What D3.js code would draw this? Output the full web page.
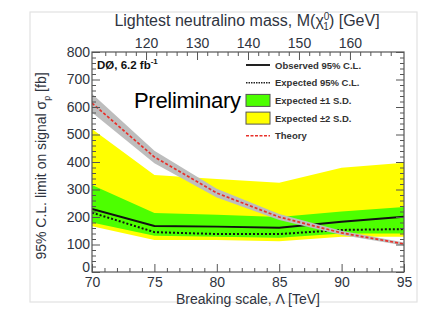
<!DOCTYPE html>
<html>
<head>
<meta charset="utf-8">
<script src="https://cdn.jsdelivr.net/npm/d3@7"></script>
<style>
  html, body { margin: 0; padding: 0; background: #fff; }
  svg { display: block; font-family: "Liberation Sans", Arial, sans-serif; }
</style>
</head>
<body>
<svg id="chart" width="439" height="329"></svg>
<script>
// Breaking scale Λ [TeV]
const lambda = [70, 75, 80, 85, 90, 95];
// Cross-section limits [fb]
const observed = [229, 167, 165, 161, 183, 201];
const expected = [216, 145, 138, 138, 153, 156];
const sd1Low  = [180, 132, 128, 125, 140, 140];
const sd1High = [316, 215, 208, 200, 220, 236];
const sd2Low  = [166, 116, 116, 112, 128, 128];
const sd2High = [520, 353, 338, 325, 379, 397];
const theory  = [614, 418, 287, 200, 142, 102];
const theoryErr = 0.055;

const xTicks = [70, 75, 80, 85, 90, 95];
const yTicks = [0, 100, 200, 300, 400, 500, 600, 700, 800];
const massTicks = [120, 130, 140, 150, 160];

const legendItems = [
  { label: "Observed 95% C.L.", kind: "obs" },
  { label: "Expected 95% C.L.", kind: "exp" },
  { label: "Expected \u00B11 S.D.", kind: "sd1" },
  { label: "Expected \u00B12 S.D.", kind: "sd2" },
  { label: "Theory", kind: "th" }
];

const svg = d3.select("#chart");
const L = 92, R = 404, T = 52, B = 272;
const txtCol = "#2f3440";

const x = d3.scaleLinear().domain([70, 95]).range([L, R]);
const y = d3.scaleLinear().domain([0, 800]).range([B, T]);
const xm = d3.scaleLinear().domain([109.4, 170.6]).range([L, R]);

// faint outer frame
svg.append("rect").attr("x", 30).attr("y", 12).attr("width", 387).attr("height", 290)
  .attr("fill", "none").attr("stroke", "#e2e2e2").attr("stroke-width", 1.2);

const plot = svg.append("g");
svg.append("clipPath").attr("id", "pc").append("rect")
  .attr("x", L).attr("y", T).attr("width", R - L).attr("height", B - T);
const inner = plot.append("g").attr("clip-path", "url(#pc)");

const idx = d3.range(lambda.length);

const band = (lo, hi) => d3.area()
  .x(i => x(lambda[i])).y0(i => y(lo[i])).y1(i => y(hi[i]));

inner.append("path").datum(idx).attr("d", band(sd2Low, sd2High)).attr("fill", "#ffff00");
inner.append("path").datum(idx).attr("d", band(sd1Low, sd1High)).attr("fill", "#4dff00");

const line = vals => d3.line().x(i => x(lambda[i])).y(i => y(vals[i]));

inner.append("path").datum(idx).attr("d", line(observed))
  .attr("fill", "none").attr("stroke", "#111").attr("stroke-width", 2);
inner.append("path").datum(idx).attr("d", line(expected))
  .attr("fill", "none").attr("stroke", "#111").attr("stroke-width", 2)
  .attr("stroke-dasharray", "2,2");

// theory with uncertainty band
inner.append("path").datum(idx)
  .attr("d", d3.area().x(i => x(lambda[i]))
    .y0(i => y(theory[i] * (1 - theoryErr))).y1(i => y(theory[i] * (1 + theoryErr))))
  .attr("fill", "#bdbdbd");
inner.append("path").datum(idx).attr("d", line(theory))
  .attr("fill", "none").attr("stroke", "#e8302a").attr("stroke-width", 1.7)
  .attr("stroke-dasharray", "3,2");

// frame
plot.append("rect").attr("x", L).attr("y", T).attr("width", R - L).attr("height", B - T)
  .attr("fill", "none").attr("stroke", "#555").attr("stroke-width", 1.2);

// axes
const tickStyle = g => {
  g.select(".domain").remove();
  g.selectAll(".tick line").attr("stroke", "#555").attr("stroke-width", 1);
  g.selectAll("text").attr("fill", txtCol).style("font-size", "14px");
};

// bottom: major labels, minor every 1 TeV
plot.append("g").attr("transform", `translate(0,${B})`)
  .call(d3.axisBottom(x).tickValues(xTicks).tickSize(-8).tickPadding(5).tickFormat(d3.format("d")))
  .call(tickStyle);
plot.append("g").attr("transform", `translate(0,${B})`)
  .call(d3.axisBottom(x).tickValues(d3.range(70, 96).filter(v => v % 5)).tickSize(-4).tickFormat(""))
  .call(tickStyle);

// top: neutralino mass
plot.append("g").attr("transform", `translate(0,${T})`)
  .call(d3.axisTop(xm).tickValues(massTicks).tickSize(-8).tickPadding(4).tickFormat(d3.format("d")))
  .call(tickStyle);
plot.append("g").attr("transform", `translate(0,${T})`)
  .call(d3.axisTop(xm).tickValues(d3.range(110, 171, 2).filter(v => v % 10)).tickSize(-4).tickFormat(""))
  .call(tickStyle);

// left
const yAxisG = plot.append("g").attr("transform", `translate(${L},0)`)
  .call(d3.axisLeft(y).tickValues(yTicks).tickSize(-8).tickPadding(2).tickFormat(d3.format("d")))
  .call(tickStyle);
// lift the zero label clear of the first Λ label
yAxisG.selectAll(".tick").filter(d => d === 0).select("text").attr("dy", "-0.05em");
plot.append("g").attr("transform", `translate(${L},0)`)
  .call(d3.axisLeft(y).tickValues(d3.range(0, 801, 20).filter(v => v % 100)).tickSize(-4).tickFormat(""))
  .call(tickStyle);
// right
plot.append("g").attr("transform", `translate(${R},0)`)
  .call(d3.axisRight(y).tickValues(yTicks).tickSize(-8).tickFormat(""))
  .call(tickStyle);
plot.append("g").attr("transform", `translate(${R},0)`)
  .call(d3.axisRight(y).tickValues(d3.range(0, 801, 20).filter(v => v % 100)).tickSize(-4).tickFormat(""))
  .call(tickStyle);

// axis titles
svg.append("text").attr("x", (L + R) / 2 - 1).attr("y", 26).attr("text-anchor", "middle")
  .attr("fill", txtCol).style("font-size", "16px")
  .html('Lightest neutralino mass, M(\u03C7<tspan dy="-6" style="font-size:10px">0</tspan><tspan dx="-6" dy="10" style="font-size:10px">1</tspan><tspan dy="-4">) [GeV]</tspan>');

svg.append("text").attr("x", 248).attr("y", 304).attr("text-anchor", "middle")
  .attr("fill", txtCol).style("font-size", "14px")
  .text("Breaking scale, \u039B [TeV]");

svg.append("text").attr("transform", "translate(46,166) rotate(-90)").attr("text-anchor", "middle")
  .attr("fill", txtCol).style("font-size", "14px")
  .html('95% C.L. limit on signal \u03C3<tspan dy="4" style="font-size:9px">p</tspan><tspan dy="-4"> [fb]</tspan>');

// experiment label
svg.append("text").attr("x", 97).attr("y", 69).attr("fill", "#111")
  .style("font-size", "11.5px").style("font-weight", "bold")
  .html('D\u00D8, 6.2 fb<tspan dy="-5" style="font-size:8px">-1</tspan>');

svg.append("text").attr("x", 134).attr("y", 108).attr("fill", "#000")
  .style("font-size", "22px").style("letter-spacing", "-0.3px")
  .text("Preliminary");

// legend
const lg = svg.append("g");
const ly0 = 65, ldy = 17.7, lx0 = 246, lx1 = 270;
legendItems.forEach((d, i) => {
  const yy = ly0 + i * ldy;
  if (d.kind === "obs") {
    lg.append("line").attr("x1", lx0).attr("x2", lx1).attr("y1", yy).attr("y2", yy)
      .attr("stroke", "#222").attr("stroke-width", 2);
  } else if (d.kind === "exp") {
    lg.append("line").attr("x1", lx0).attr("x2", lx1).attr("y1", yy).attr("y2", yy)
      .attr("stroke", "#222").attr("stroke-width", 1.4).attr("stroke-dasharray", "1.5,1");
  } else if (d.kind === "th") {
    lg.append("line").attr("x1", lx0).attr("x2", lx1).attr("y1", yy).attr("y2", yy)
      .attr("stroke", "#e8302a").attr("stroke-width", 1.4).attr("stroke-dasharray", "3,1.5");
  } else {
    lg.append("rect").attr("x", lx0).attr("y", yy - 6).attr("width", lx1 - lx0).attr("height", 12)
      .attr("fill", d.kind === "sd1" ? "#4dff00" : "#ffff00")
      .attr("stroke", "#555").attr("stroke-width", 1);
  }
  lg.append("text").attr("x", 275).attr("y", yy + 3.5).attr("fill", "#333")
    .style("font-size", "9.5px").style("font-weight", "bold")
    .text(d.label);
});
</script>
</body>
</html>
